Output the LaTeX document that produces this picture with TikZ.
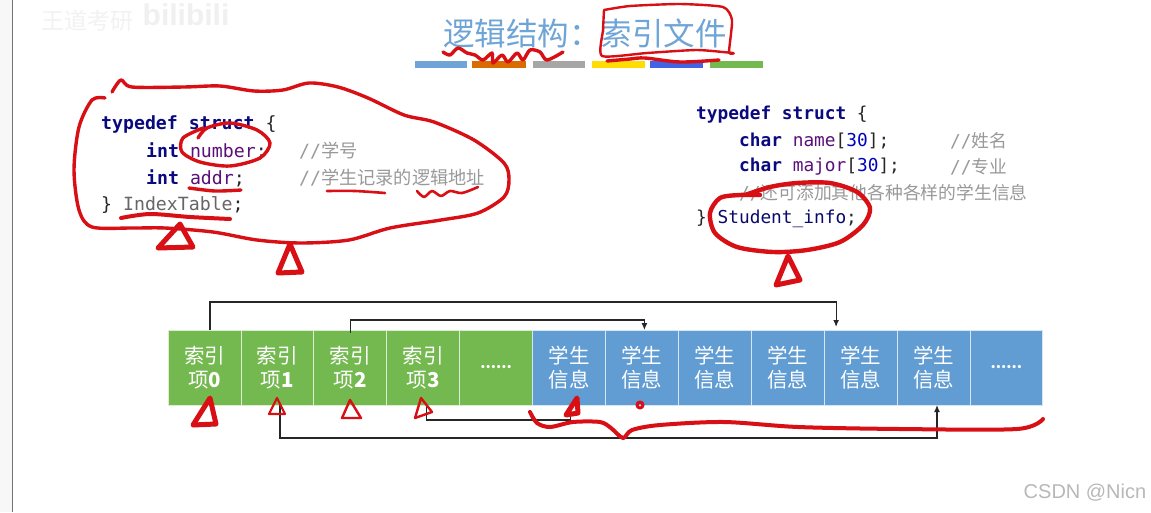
\documentclass[tikz,border=0pt]{standalone}
\usepackage{fontspec}
\usepackage{xcolor}
\usepackage{tikz}
\usetikzlibrary{arrows.meta,positioning}
\setmainfont{Liberation Sans}
\setmonofont{DejaVu Sans Mono}
\newfontfamily\cjk{Noto Sans CJK SC}
\definecolor{mTitle}{HTML}{6FA5D6}
\definecolor{mGreen}{HTML}{74B850}
\definecolor{mBlue}{HTML}{619CD3}
\definecolor{mInk}{HTML}{D80F14}
\definecolor{mKey}{HTML}{0A0A80}
\definecolor{mVar}{HTML}{5A0F7A}
\definecolor{mNote}{HTML}{999999}
\newcommand{\kw}[1]{\textcolor{mKey}{\bfseries #1}}
\newcommand{\vr}[1]{\textcolor{mVar}{#1}}
\newcommand{\nm}[1]{\textcolor{blue!75!black}{#1}}
\newcommand{\cm}[1]{\textcolor{mNote}{//{\cjk #1}}}
\begin{document}
\begin{tikzpicture}[
  x=1pt, y=-1pt, node distance=0pt,
  code/.style={anchor=west, inner sep=0pt, yshift=-2pt, font=\ttfamily\fontsize{17.8}{20}\selectfont, text=black!85},
  wide code/.style={code, font=\ttfamily\fontsize{18.2}{20}\selectfont},
  cell/.style={draw=white!75!mGreen, line width=0.9pt, outer sep=0pt, inner sep=0pt, minimum width=72.9pt, minimum height=75pt, align=center, text=white, font=\cjk\fontsize{20.5}{24}\selectfont},
  idx/.style={cell, fill=mGreen},
  info/.style={cell, fill=mBlue, draw=white!75!mBlue},
  dots/.style={font=\cjk\bfseries\fontsize{15}{15}\selectfont},
  lnk/.style={line width=1.2pt, black!85},
  bar/.style={draw=none, inner sep=0pt, outer sep=0pt, minimum height=6.5pt, anchor=north west},
  ink/.style={draw=mInk, line width=3.4pt, line cap=round, line join=round},
  thick ink/.style={ink, line width=5pt}]
\useasboundingbox (0,0) rectangle (1151,512);
\fill[white] (0,0) rectangle (1151,512);
\fill[black!3] (0,0) rectangle (12,512);
\draw[black!55, line width=0.8pt] (12,0) -- (12,512);
% watermarks
\node[text=black!5, font=\cjk\fontsize{23}{24}\selectfont] (mark) at (87,21) {王道考研};
\node[text=black!6, font=\bfseries\fontsize{30}{30}\selectfont] (logo) at (186,15) {bilibili};
\node[text=black!28, font=\fontsize{20}{24}\selectfont] (csdn) at (1085,493) {CSDN @Nicn};
% title
\node[text=mTitle, font=\cjk\fontsize{31.5}{36}\selectfont] (title) at (585,33) {逻辑结构\char"FF1A 索引文件};
\node[bar, fill=mTitle, minimum width=52pt] (bara) at (415,61) {};
\node[bar, fill=orange!85!black, minimum width=54pt] (barb) at (472,61) {};
\node[bar, fill=black!35, minimum width=52pt] (barc) at (533,61) {};
\node[bar, fill=yellow!80!orange, minimum width=53pt] (bard) at (592,61) {};
\node[bar, fill=blue!40!mTitle, minimum width=53pt] (bare) at (650,61) {};
\node[bar, fill=mGreen, minimum width=53pt] (barf) at (710,61) {};
% left code
\node[wide code] (la) at (101,122) {\kw{typedef struct} \{};
\node[wide code] (lb) at (146,149) {\kw{int} \vr{number};};
\node[wide code] (lc) at (146,176) {\kw{int} \vr{addr};};
\node[wide code] (ld) at (101,203) {\} \textcolor{black!60}{IndexTable};};
\node[wide code] (lbn) at (299,149) {\cm{学号}};
\node[wide code] (lcn) at (299,176) {\cm{学生记录的逻辑地址}};
% right code
\node[code] (ra) at (696,113) {\kw{typedef struct} \{};
\node[code] (rb) at (739,139) {\kw{char} \vr{name}[\nm{30}];};
\node[code] (rc) at (739,165) {\kw{char} \vr{major}[\nm{30}];};
\node[code] (rd) at (739,191) {\cm{还可添加其他各种各样的学生信息}};
\node[code] (re) at (696,217) {\} \textcolor{mKey!85!black}{Student\_info};};
\node[code] (rbn) at (950,139) {\cm{姓名}};
\node[code] (rcn) at (950,165) {\cm{专业}};
% index and student cells
\node[idx] (idxa) at (204.5,367.5) {索引\\项{\bfseries 0}};
\node[idx, right=of idxa] (idxb) {索引\\项{\bfseries 1}};
\node[idx, right=of idxb] (idxc) {索引\\项{\bfseries 2}};
\node[idx, right=of idxc] (idxd) {索引\\项{\bfseries 3}};
\node[idx, dots, right=of idxd] (idxe) {......};
\node[info, right=of idxe] (infa) {学生\\信息};
\node[info, right=of infa] (infb) {学生\\信息};
\node[info, right=of infb] (infc) {学生\\信息};
\node[info, right=of infc] (infd) {学生\\信息};
\node[info, right=of infd] (infe) {学生\\信息};
\node[info, right=of infe] (inff) {学生\\信息};
\node[info, dots, right=of inff] (infg) {......};
% links
\draw[lnk, -{Latex[length=7pt,width=6pt]}] ([xshift=5.5pt]idxa.north) -- ++(0,-28) -| ([xshift=-24.5pt,yshift=3pt]infe.north);
\draw[lnk, -{Latex[length=7pt,width=6pt]}] ([xshift=0.5pt,yshift=-3pt]idxc.north) -- ++(0,-13) -| ([xshift=2.5pt]infb.north);
\draw[lnk] ([xshift=3.5pt]idxd.south) -- ++(0,15) -| ([xshift=1.5pt]infa.south);
\draw[lnk, -{Latex[length=7pt,width=6pt]}] ([xshift=2.5pt]idxb.south) -- ++(0,33) -| ([xshift=3.5pt]inff.south);
% red pen, title
\draw[ink] plot[smooth] coordinates {(443,52) (450,55) (458,48) (467,53) (475,55) (483,60) (492,53) (493,63) (502,55) (508,62) (517,53) (523,60) (530,50) (540,52) (547,60) (563,52)};
\draw[ink, line width=2.4pt] plot[smooth, tension=0.35] coordinates {(604,10) (630,6) (680,4) (723,7) (732,20) (729,52) (733,53) (697,50) (647,53) (602,56) (603,30) (604,10)};
\draw[ink] plot[smooth] coordinates {(607,61) (630,59) (645,58) (680,62) (719,60)};
% red pen, left block
\draw[ink] plot[smooth] coordinates {(112,92) (121,80) (132,87) (184,87) (220,86) (254,91) (283,90) (309,83) (338,87) (368,98) (404,115) (434,122) (474,140) (504,163) (509,180) (504,197) (478,213) (441,220) (390,228) (349,240) (301,243) (257,240) (213,232) (165,228) (132,228) (92,227) (79,210) (74,170) (79,127) (92,100) (105,98)};
\draw[ink] plot[smooth] coordinates {(198,138) (207,128) (230,123) (257,130) (270,143) (260,158) (230,166) (200,162) (182,152) (183,138) (203,128)};
\draw[ink] plot[smooth] coordinates {(189,188) (215,191) (241,190)};
\draw[ink, line width=2.6pt] plot[smooth] coordinates {(327,191) (355,191) (385,193)};
\draw[ink, line width=2.6pt] plot[smooth] coordinates {(417,191) (424,197) (432,191) (441,196) (450,191) (462,193) (478,187)};
\draw[ink, line width=4pt] plot[smooth] coordinates {(121,218) (150,214) (190,217) (230,219)};
\draw[thick ink] (180,224) -- (193,247) -- (158,248) -- cycle;
\draw[thick ink] (290,244) -- (302,272) -- (278,273) -- cycle;
% red pen, right block
\draw[ink, line width=4.4pt] plot[smooth] coordinates {(760,195) (740,195) (720,198) (710,213) (715,233) (737,247) (773,252) (807,250) (840,242) (863,225) (870,208) (857,192) (830,183) (797,183) (770,187) (745,195)};
\draw[thick ink] (788,256) -- (800,280) -- (776,285) -- cycle;
% red pen, below cells
\draw[thick ink] (210,398) -- (216,424) -- (193,425) -- cycle;
\draw[ink, line width=2.2pt] (277,398) -- (285,414) -- (269,414) -- cycle;
\draw[ink, line width=2.4pt] (350,400) -- (361,418) -- (342,418) -- cycle;
\draw[ink, line width=2.4pt] (421,398) -- (432,412) -- (415,418) -- cycle;
\draw[thick ink] (577,398) -- (578,413) -- (566,415) -- cycle;
\draw[thick ink, line width=3pt] (640,405) circle (3pt);
\draw[ink, line width=4pt] plot[smooth] coordinates {(530,412) (537,423) (550,427) (573,422) (600,422) (611,428) (623,438) (632,430) (660,425) (724,422) (798,427) (900,429) (1017,429) (1043,419)};
\end{tikzpicture}
\end{document}
